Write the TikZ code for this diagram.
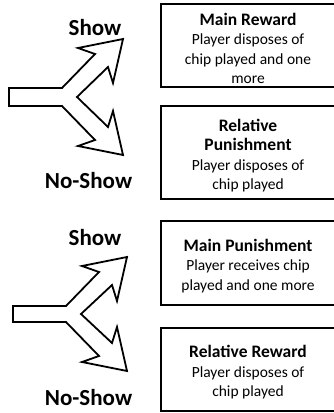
\documentclass[tikz,border=0pt]{standalone}
\usepackage{fontspec}
\setmainfont{Carlito}
\newcommand{\ttl}[1]{{\fontsize{17.5}{21}\selectfont\bfseries #1}}
\begin{document}
\begin{tikzpicture}[x=1pt,y=-1pt,
  box/.style={draw, line width=2.2pt, minimum width=177pt, inner sep=0pt},
  boxtext/.style={align=center, inner sep=0pt, font=\fontsize{15.5}{19.5}\selectfont},
  lbl/.style={anchor=base, inner sep=0pt, font=\fontsize{23}{27}\selectfont\bfseries},
  arrowline/.style={draw, line width=1.8pt, line join=miter}]
\useasboundingbox (0,0) rectangle (333,413);
% boxes (right edges run past the picture's edge)
\node[box, minimum height=83pt] (b1) at (249.5,45.5) {};
\node[box, minimum height=93pt] (b2) at (249.5,152.5) {};
\node[box, minimum height=84pt] (b3) at (249.5,263) {};
\node[box, minimum height=83pt] (b4) at (249.5,369.5) {};
\node[boxtext] (t1) at ([xshift=-1.5pt,yshift=-3pt]b1.center) {\ttl{Main Reward}\\Player disposes of\\chip played and one\\more};
\node[boxtext] (t2) at ([xshift=-1.5pt,yshift=-3pt]b2.center) {\ttl{Relative}\\\ttl{Punishment}\\Player disposes of\\chip played};
\node[boxtext] (t3) at ([xshift=-1.5pt,yshift=-3pt]b3.center) {\ttl{Main Punishment}\\Player receives chip\\played and one more};
\node[boxtext] (t4) at ([xshift=-1.5pt,yshift=-3pt]b4.center) {\ttl{Relative Reward}\\Player disposes of\\chip played};
% labels
\node[lbl] (s1) at (95,35) {Show};
\node[lbl] (n1) at (88.5,188) {No-Show};
\node[lbl] (s2) at (95,245) {Show};
\node[lbl] (n2) at (88.5,405) {No-Show};
% forked arrows
\draw[arrowline] (9,88) -- (62,88) -- (95,54) -- (78,48) -- (123,39) -- (113,83) -- (108,67) -- (77,97)
  -- (108,127) -- (113,111) -- (123,155) -- (78,146) -- (95,140) -- (62,106) -- (9,106) -- cycle;
\begin{scope}[shift={(4,217)}]
\draw[arrowline] (9,89) -- (62,89) -- (95,55) -- (78,49) -- (123,40) -- (113,84) -- (108,68) -- (77,97)
  -- (108,126) -- (113,110) -- (123,154) -- (78,145) -- (95,139) -- (62,105) -- (9,105) -- cycle;
\end{scope}
\end{tikzpicture}
\end{document}
